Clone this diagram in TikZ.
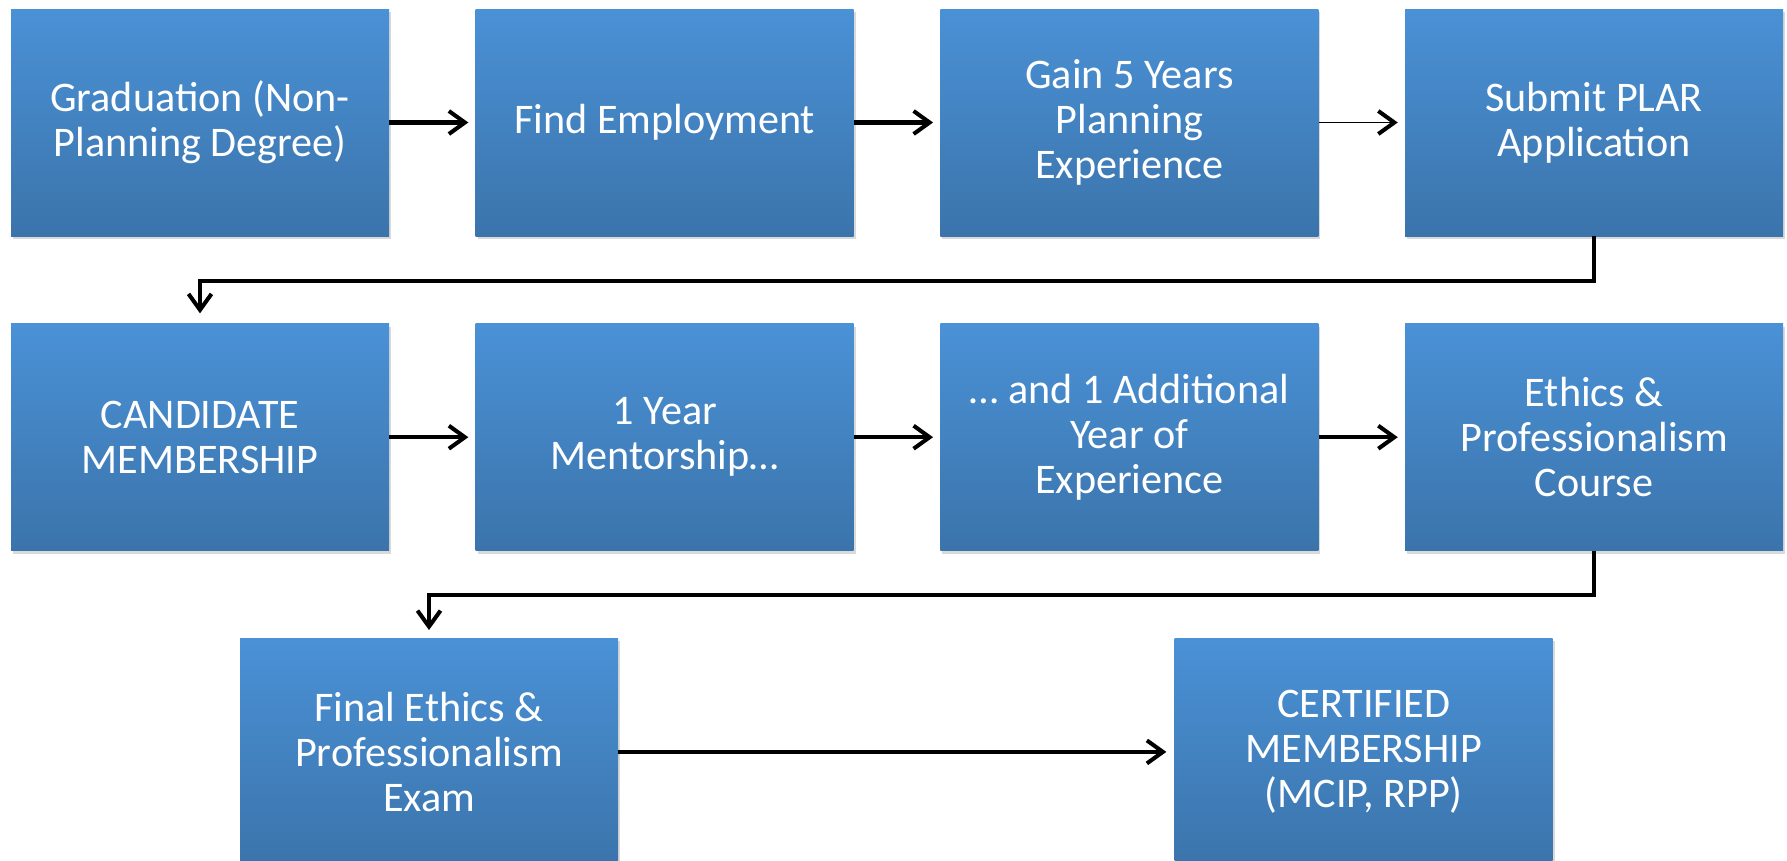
\documentclass[tikz,border=0pt]{standalone}
\usepackage{fontspec}
\setmainfont{Carlito}
\usepackage{xcolor}
\usetikzlibrary{positioning, arrows.meta, shadows}

\definecolor{boxtop}{RGB}{74,145,214}
\definecolor{boxbottom}{RGB}{59,116,171}

\tikzset{
    stepbox/.style={rectangle, minimum width=7.56cm, minimum height=4.54cm, inner sep=0pt,
        top color=boxtop, bottom color=boxbottom, text=white, align=center,
        font=\fontsize{24}{25.6}\selectfont,
        drop shadow={shadow xshift=0.04cm, shadow yshift=-0.06cm, opacity=0.3, fill=black!50}},
    link/.style={-{Straight Barb[length=3.2mm, width=4.6mm]}, line width=2.3pt},
    thinlink/.style={-{Straight Barb[length=3.2mm, width=4.6mm, line width=2.3pt]}, line width=0.9pt},
}

\begin{document}
\begin{tikzpicture}
    \useasboundingbox (0,0) rectangle (35.74,-17.2);

    % first row
    \node[stepbox] (grad) at (4.0,-2.45) {Graduation (Non-\\Planning Degree)};
    \node[stepbox, right=1.72cm of grad] (employ) {Find Employment};
    \node[stepbox, right=1.72cm of employ] (gain) {Gain 5 Years\\Planning\\Experience};
    \node[stepbox, right=1.72cm of gain] (plar) {Submit PLAR\\Application};

    % second row
    \node[stepbox, below=1.74cm of grad] (cand) {CANDIDATE\\MEMBERSHIP};
    \node[stepbox, right=1.72cm of cand] (mentor) {1 Year\\Mentorship\dots};
    \node[stepbox, right=1.72cm of mentor] (addyear) {\dots{} and 1 Additional\\Year of\\Experience};
    \node[stepbox, right=1.72cm of addyear] (ethics) {Ethics \&\\Professionalism\\Course};

    % third row
    \node[stepbox, below=1.74cm of cand, xshift=4.58cm] (exam) {Final Ethics \&\\Professionalism\\Exam};
    \node[stepbox, right=11.12cm of exam] (certified) {CERTIFIED\\MEMBERSHIP\\(MCIP, RPP)};

    % connectors
    \draw[link, shorten >=0.14cm] (grad) -- (employ);
    \draw[link, shorten >=0.14cm] (employ) -- (gain);
    \draw[thinlink, shorten >=0.14cm] (gain) -- (plar);
    \draw[link, shorten >=0.2cm] (plar.south) -- ++(0,-0.9) -| (cand.north);

    \draw[link, shorten >=0.14cm] (cand) -- (mentor);
    \draw[link, shorten >=0.14cm] (mentor) -- (addyear);
    \draw[link, shorten >=0.14cm] (addyear) -- (ethics);
    \draw[link, shorten >=0.16cm] (ethics.south) -- ++(0,-0.88) -| (exam.north);

    \draw[link, shorten >=0.16cm] (exam) -- (certified);
\end{tikzpicture}
\end{document}
